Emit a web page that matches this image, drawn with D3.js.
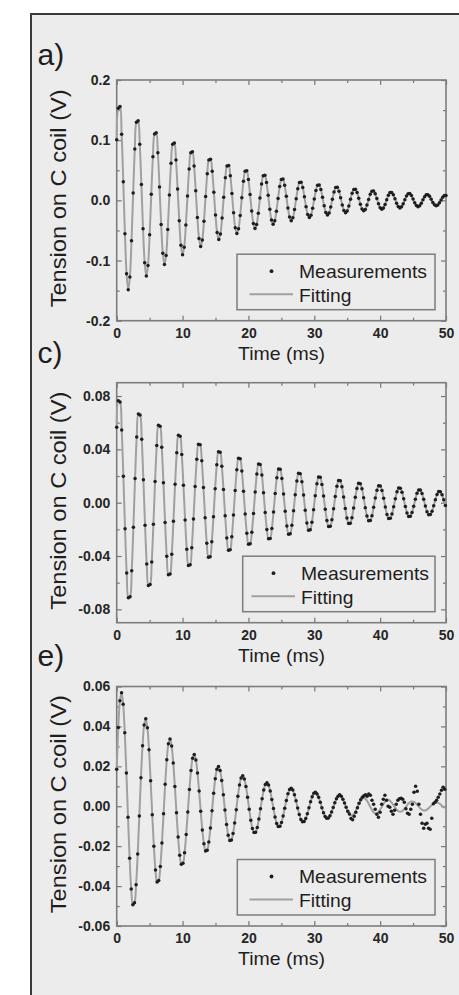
<!DOCTYPE html>
<html><head><meta charset="utf-8">
<script src="https://cdn.jsdelivr.net/npm/d3@7"></script>
<style>html,body{margin:0;padding:0;background:#fff;}svg{display:block;font-family:"Liberation Sans",Arial,sans-serif;}</style>
</head><body><svg id="chart" width="459" height="995"></svg>
<script>
// sampling steps (ms) of each record
const DT_A = 0.25, DT_C = 0.25333, DT_E = 0.24533;

// panel a) measurements (V)
const measA = [
0.1007,0.1531,0.1560,0.1099,0.0309,-0.0555,-0.1220,-0.1484,-0.1275,-0.0673,0.0121,
0.0855,0.1299,0.1323,0.0933,0.0262,-0.0471,-0.1035,-0.1259,-0.1082,-0.0571,0.0103,
0.0725,0.1101,0.1122,0.0791,0.0222,-0.0400,-0.0878,-0.1067,-0.0917,-0.0484,0.0087,
0.0615,0.0934,0.0952,0.0671,0.0188,-0.0339,-0.0745,-0.0905,-0.0778,-0.0411,0.0074,
0.0521,0.0792,0.0807,0.0569,0.0160,-0.0287,-0.0632,-0.0768,-0.0660,-0.0348,0.0063,
0.0442,0.0672,0.0684,0.0482,0.0135,-0.0244,-0.0535,-0.0651,-0.0559,-0.0295,0.0053,
0.0375,0.0570,0.0580,0.0409,0.0115,-0.0207,-0.0454,-0.0552,-0.0474,-0.0250,0.0045,
0.0318,0.0483,0.0492,0.0347,0.0097,-0.0175,-0.0385,-0.0468,-0.0402,-0.0213,0.0038,
0.0270,0.0410,0.0418,0.0295,0.0083,-0.0149,-0.0327,-0.0397,-0.0341,-0.0180,0.0032,
0.0229,0.0348,0.0354,0.0250,0.0070,-0.0126,-0.0277,-0.0337,-0.0290,-0.0153,0.0028,
0.0194,0.0295,0.0301,0.0212,0.0059,-0.0107,-0.0235,-0.0286,-0.0246,-0.0130,0.0023,
0.0165,0.0251,0.0255,0.0180,0.0050,-0.0091,-0.0200,-0.0243,-0.0209,-0.0110,0.0020,
0.0140,0.0212,0.0216,0.0153,0.0043,-0.0077,-0.0169,-0.0206,-0.0177,-0.0093,0.0017,
0.0118,0.0180,0.0183,0.0129,0.0036,-0.0065,-0.0143,-0.0174,-0.0150,-0.0079,0.0014,
0.0101,0.0153,0.0156,0.0110,0.0031,-0.0056,-0.0122,-0.0148,-0.0127,-0.0067,0.0012,
0.0085,0.0130,0.0132,0.0093,0.0026,-0.0047,-0.0104,-0.0126,-0.0108,-0.0057,0.0010,
0.0072,0.0109,0.0112,0.0079,0.0022,-0.0040,-0.0087,-0.0106,-0.0091,-0.0048,0.0009,
0.0061,0.0093,0.0095,0.0067,0.0019,-0.0034,-0.0074,-0.0090,-0.0077,-0.0041,0.0007,
0.0052,0.0079,0.0080];
const fitA = measA;

// panel c) measurements (V)
const measC = [
0.0566,0.0764,0.0755,0.0546,0.0198,-0.0195,-0.0528,-0.0713,-0.0705,-0.0510,-0.0185,0.0182,
0.0493,0.0666,0.0658,0.0476,0.0172,-0.0170,-0.0460,-0.0621,-0.0614,-0.0444,-0.0161,0.0159,
0.0429,0.0580,0.0573,0.0415,0.0150,-0.0148,-0.0401,-0.0541,-0.0535,-0.0387,-0.0140,0.0138,
0.0374,0.0505,0.0499,0.0361,0.0131,-0.0129,-0.0349,-0.0471,-0.0466,-0.0337,-0.0122,0.0121,
0.0325,0.0439,0.0434,0.0314,0.0114,-0.0112,-0.0304,-0.0410,-0.0405,-0.0293,-0.0106,0.0105,
0.0284,0.0383,0.0379,0.0274,0.0099,-0.0098,-0.0265,-0.0357,-0.0353,-0.0256,-0.0093,0.0091,
0.0247,0.0333,0.0329,0.0238,0.0086,-0.0085,-0.0230,-0.0311,-0.0307,-0.0222,-0.0081,0.0080,
0.0215,0.0290,0.0287,0.0208,0.0075,-0.0074,-0.0201,-0.0271,-0.0268,-0.0194,-0.0070,0.0069,
0.0187,0.0253,0.0250,0.0181,0.0065,-0.0065,-0.0175,-0.0236,-0.0233,-0.0169,-0.0061,0.0060,
0.0163,0.0221,0.0218,0.0158,0.0057,-0.0056,-0.0152,-0.0206,-0.0203,-0.0147,-0.0053,0.0053,
0.0142,0.0192,0.0190,0.0137,0.0050,-0.0049,-0.0133,-0.0179,-0.0177,-0.0128,-0.0046,0.0046,
0.0124,0.0167,0.0165,0.0120,0.0043,-0.0043,-0.0115,-0.0156,-0.0154,-0.0112,-0.0040,0.0040,
0.0107,0.0145,0.0143,0.0104,0.0038,-0.0037,-0.0100,-0.0135,-0.0134,-0.0097,-0.0035,0.0035,
0.0094,0.0127,0.0126,0.0091,0.0033,-0.0032,-0.0088,-0.0119,-0.0117,-0.0085,-0.0031,0.0030,
0.0082,0.0111,0.0109,0.0079,0.0029,-0.0028,-0.0077,-0.0103,-0.0102,-0.0074,-0.0027,0.0026,
0.0071,0.0096,0.0095,0.0069,0.0025,-0.0025,-0.0067,-0.0090,-0.0089,-0.0064,-0.0023,0.0023,
0.0062,0.0084,0.0083,0.0060,0.0022,-0.0021];
const fitC = measC;

// panel e) measurements (V)
const measE = [
0.0185,0.0395,0.0529,0.0569,0.0511,0.0368,0.0167,-0.0055,-0.0261,-0.0415,-0.0493,-0.0484,-0.0393,-0.0239,-0.0049,
0.0143,0.0303,0.0407,0.0438,0.0393,0.0283,0.0128,-0.0043,-0.0200,-0.0319,-0.0379,-0.0372,-0.0302,-0.0184,-0.0038,
0.0110,0.0233,0.0313,0.0337,0.0302,0.0217,0.0099,-0.0033,-0.0154,-0.0245,-0.0291,-0.0286,-0.0233,-0.0141,-0.0029,
0.0084,0.0179,0.0241,0.0259,0.0232,0.0167,0.0076,-0.0025,-0.0119,-0.0188,-0.0224,-0.0220,-0.0179,-0.0109,-0.0022,
0.0065,0.0138,0.0185,0.0199,0.0179,0.0129,0.0058,-0.0019,-0.0091,-0.0145,-0.0172,-0.0169,-0.0137,-0.0084,-0.0017,
0.0050,0.0106,0.0142,0.0153,0.0137,0.0099,0.0045,-0.0015,-0.0070,-0.0111,-0.0132,-0.0130,-0.0106,-0.0064,-0.0013,
0.0038,0.0082,0.0109,0.0118,0.0106,0.0076,0.0034,-0.0011,-0.0054,-0.0086,-0.0102,-0.0100,-0.0081,-0.0049,-0.0010,
0.0029,0.0063,0.0084,0.0090,0.0081,0.0058,0.0027,-0.0009,-0.0041,-0.0066,-0.0078,-0.0077,-0.0062,-0.0038,-0.0008,
0.0023,0.0048,0.0065,0.0070,0.0062,0.0045,0.0020,-0.0007,-0.0032,-0.0051,-0.0060,-0.0059,-0.0048,-0.0029,-0.0006,
0.0017,0.0037,0.0050,0.0058,0.0050,0.0035,0.0016,-0.0005,-0.0025,-0.0039,-0.0062,-0.0068,-0.0050,-0.0030,-0.0008,
0.0015,0.0032,0.0045,0.0052,0.0058,0.0050,0.0062,0.0055,0.0030,0.0010,-0.0015,-0.0040,-0.0055,-0.0030,0.0010,
0.0035,0.0055,0.0030,0.0000,-0.0005,-0.0025,-0.0040,-0.0020,0.0010,0.0030,0.0038,0.0040,0.0035,0.0020,-0.0012,
-0.0035,-0.0040,-0.0015,0.0010,0.0070,0.0100,0.0075,0.0010,-0.0040,-0.0085,-0.0110,-0.0090,-0.0085,-0.0110,-0.0115,
-0.0060,0.0012,0.0020,0.0030,0.0045,0.0062,0.0080,0.0095,0.0085];

// panel e) fitting (V)
const fitE = [
0.0185,0.0395,0.0529,0.0569,0.0511,0.0368,0.0167,-0.0055,-0.0261,-0.0415,-0.0493,-0.0484,-0.0393,-0.0239,-0.0049,
0.0143,0.0303,0.0407,0.0438,0.0393,0.0283,0.0128,-0.0043,-0.0200,-0.0319,-0.0379,-0.0372,-0.0302,-0.0184,-0.0038,
0.0110,0.0233,0.0313,0.0337,0.0302,0.0217,0.0099,-0.0033,-0.0154,-0.0245,-0.0291,-0.0286,-0.0233,-0.0141,-0.0029,
0.0084,0.0179,0.0241,0.0259,0.0232,0.0167,0.0076,-0.0025,-0.0119,-0.0188,-0.0224,-0.0220,-0.0179,-0.0109,-0.0022,
0.0065,0.0138,0.0185,0.0199,0.0179,0.0129,0.0058,-0.0019,-0.0091,-0.0145,-0.0172,-0.0169,-0.0137,-0.0084,-0.0017,
0.0050,0.0106,0.0142,0.0153,0.0137,0.0099,0.0045,-0.0015,-0.0070,-0.0111,-0.0132,-0.0130,-0.0106,-0.0064,-0.0013,
0.0038,0.0082,0.0109,0.0118,0.0106,0.0076,0.0034,-0.0011,-0.0054,-0.0086,-0.0102,-0.0100,-0.0081,-0.0049,-0.0010,
0.0029,0.0063,0.0084,0.0090,0.0081,0.0058,0.0027,-0.0009,-0.0041,-0.0066,-0.0078,-0.0077,-0.0062,-0.0038,-0.0008,
0.0023,0.0048,0.0065,0.0070,0.0062,0.0045,0.0020,-0.0007,-0.0032,-0.0051,-0.0060,-0.0059,-0.0048,-0.0029,-0.0006,
0.0017,0.0037,0.0050,0.0054,0.0048,0.0035,0.0016,-0.0005,-0.0025,-0.0039,-0.0046,-0.0045,-0.0037,-0.0022,-0.0005,
0.0013,0.0028,0.0038,0.0041,0.0037,0.0027,0.0012,-0.0004,-0.0019,-0.0030,-0.0036,-0.0035,-0.0028,-0.0017,-0.0004,
0.0010,0.0022,0.0029,0.0032,0.0028,0.0020,0.0009,-0.0003,-0.0014,-0.0023,-0.0027,-0.0027,-0.0022,-0.0013,-0.0003,
0.0008,0.0017,0.0023,0.0024,0.0022,0.0016,0.0007,-0.0002,-0.0011,-0.0018,-0.0021,-0.0021,-0.0017,-0.0010,-0.0002,
0.0006,0.0013,0.0017,0.0019,0.0017,0.0012,0.0005,-0.0002,-0.0009];

// ticks
const xMajor = [0,10,20,30,40,50];
const xLabels = ["0","10","20","30","40","50"];
const xMinor = [5,15,25,35,45];
const yMajorA = [-0.2,-0.1,0,0.1,0.2];
const yLabelsA = ["-0.2","-0.1","0.0","0.1","0.2"];
const yMinorA = [-0.15,-0.05,0.05,0.15];
const yMajorC = [-0.08,-0.04,0,0.04,0.08];
const yLabelsC = ["-0.08","-0.04","0.00","0.04","0.08"];
const yMinorC = [-0.06,-0.02,0.02,0.06];
const yMajorE = [-0.06,-0.04,-0.02,0,0.02,0.04,0.06];
const yLabelsE = ["-0.06","-0.04","-0.02","0.00","0.02","0.04","0.06"];
const yMinorE = [-0.05,-0.03,-0.01,0.01,0.03,0.05];

const panelLabels = ["a)","c)","e)"];
const yTitle = "Tension on C coil (V)";
const xTitle = "Time (ms)";
const legendTexts = ["Measurements","Fitting"];

const panels = [
  {label:panelLabels[0], labelBase:65, top:80, bottom:320.7, yDom:[-0.2,0.2], yMajor:yMajorA, yLabels:yLabelsA, yMinor:yMinorA, meas:measA, fit:fitA, dt:DT_A, legX0:237, legTextX:299},
  {label:panelLabels[1], labelBase:363, top:382.7, bottom:622.7, yDom:[-0.09,0.09], yMajor:yMajorC, yLabels:yLabelsC, yMinor:yMinorC, meas:measC, fit:fitC, dt:DT_C, legX0:242.7, legTextX:301},
  {label:panelLabels[2], labelBase:666, top:686.5, bottom:926, yDom:[-0.06,0.06], yMajor:yMajorE, yLabels:yLabelsE, yMinor:yMinorE, meas:measE, fit:fitE, dt:DT_E, legX0:237.3, legTextX:299}
];

const svg = d3.select("#chart");
svg.append("rect").attr("width",459).attr("height",995).attr("fill","#ffffff");
svg.append("rect").attr("x",31).attr("y",14).attr("width",500).attr("height",1000)
  .attr("fill","#ececec").attr("stroke","#3a3a3a").attr("stroke-width",2);

const L = 116.7, R = 446;
const x = d3.scaleLinear().domain([0,50]).range([L,R]);
const tickColor = "#777";

function styleAxis(g){
  g.select(".domain").remove();
  g.selectAll(".tick line").attr("stroke",tickColor).attr("stroke-width",1.2);
  g.selectAll(".tick text").attr("fill","#262626").attr("font-size",14).attr("font-weight","bold")
    .attr("font-family","'Liberation Sans',Arial,sans-serif");
}

panels.forEach(p => {
  const y = d3.scaleLinear().domain(p.yDom).range([p.bottom,p.top]);
  const g = svg.append("g");

  // axes (ticks inward on all four sides)
  g.append("g").attr("transform",`translate(0,${p.bottom})`)
    .call(d3.axisBottom(x).tickValues(xMajor).tickSizeInner(-5).tickSizeOuter(0).tickPadding(7)
      .tickFormat((d,i)=>xLabels[i])).call(styleAxis);
  g.append("g").attr("transform",`translate(0,${p.bottom})`)
    .call(d3.axisBottom(x).tickValues(xMinor).tickSizeInner(-3).tickSizeOuter(0).tickFormat("")).call(styleAxis);
  g.append("g").attr("transform",`translate(0,${p.top})`)
    .call(d3.axisTop(x).tickValues(xMajor).tickSizeInner(-5).tickSizeOuter(0).tickFormat("")).call(styleAxis);
  g.append("g").attr("transform",`translate(0,${p.top})`)
    .call(d3.axisTop(x).tickValues(xMinor).tickSizeInner(-3).tickSizeOuter(0).tickFormat("")).call(styleAxis);
  g.append("g").attr("transform",`translate(${L},0)`)
    .call(d3.axisLeft(y).tickValues(p.yMajor).tickSizeInner(-5).tickSizeOuter(0).tickPadding(6.5)
      .tickFormat((d,i)=>p.yLabels[i])).call(styleAxis);
  g.append("g").attr("transform",`translate(${L},0)`)
    .call(d3.axisLeft(y).tickValues(p.yMinor).tickSizeInner(-3).tickSizeOuter(0).tickFormat("")).call(styleAxis);
  g.append("g").attr("transform",`translate(${R},0)`)
    .call(d3.axisRight(y).tickValues(p.yMajor).tickSizeInner(-5).tickSizeOuter(0).tickFormat("")).call(styleAxis);
  g.append("g").attr("transform",`translate(${R},0)`)
    .call(d3.axisRight(y).tickValues(p.yMinor).tickSizeInner(-3).tickSizeOuter(0).tickFormat("")).call(styleAxis);

  // frame of plot
  g.append("rect").attr("x",L).attr("y",p.top).attr("width",R-L).attr("height",p.bottom-p.top)
    .attr("fill","none").attr("stroke","#7d7d7d").attr("stroke-width",1.6);

  // fitting line
  const line = d3.line().x((d,i)=>x(i*p.dt)).y(d=>y(d)).curve(d3.curveCatmullRom.alpha(0.5));
  g.append("path").datum(p.fit).attr("d",line).attr("fill","none")
    .attr("stroke","#a0a0a0").attr("stroke-width",2);

  // measurement dots
  g.append("g").selectAll("circle").data(p.meas).join("circle")
    .attr("cx",(d,i)=>x(i*p.dt)).attr("cy",d=>y(d)).attr("r",1.75).attr("fill","#1e1e1e");

  // legend
  const by = p.bottom - 66.5;
  g.append("rect").attr("x",p.legX0).attr("y",by).attr("width",435-p.legX0).attr("height",55.5)
    .attr("fill","none").attr("stroke","#7d7d7d").attr("stroke-width",1.5);
  g.append("circle").attr("cx",p.legTextX-27.5).attr("cy",by+17).attr("r",1.9).attr("fill","#1e1e1e");
  g.append("line").attr("x1",p.legTextX-49.5).attr("x2",p.legTextX-6).attr("y1",by+40).attr("y2",by+40)
    .attr("stroke","#a0a0a0").attr("stroke-width",2);
  g.append("text").attr("x",p.legTextX).attr("y",by+23.5).attr("font-size",19).attr("fill","#1e1e1e")
    .attr("textLength",128).attr("lengthAdjust","spacingAndGlyphs").text(legendTexts[0]);
  g.append("text").attr("x",p.legTextX).attr("y",by+47.5).attr("font-size",19).attr("fill","#1e1e1e")
    .attr("textLength",52.5).attr("lengthAdjust","spacingAndGlyphs").text(legendTexts[1]);

  // titles
  g.append("text").attr("x",281.5).attr("y",p.bottom+39.3).attr("text-anchor","middle")
    .attr("font-size",18.5).attr("fill","#1e1e1e").attr("textLength",87).attr("lengthAdjust","spacingAndGlyphs").text(xTitle);
  g.append("text").attr("transform",`translate(66,${(p.top+p.bottom)/2 - 2}) rotate(-90)`)
    .attr("text-anchor","middle").attr("font-size",22).attr("fill","#1e1e1e")
    .attr("textLength",218).attr("lengthAdjust","spacingAndGlyphs").text(yTitle);
  g.append("text").attr("x",37.5).attr("y",p.labelBase).attr("font-size",30).attr("fill","#1e1e1e").text(p.label);
});
</script></body></html>
